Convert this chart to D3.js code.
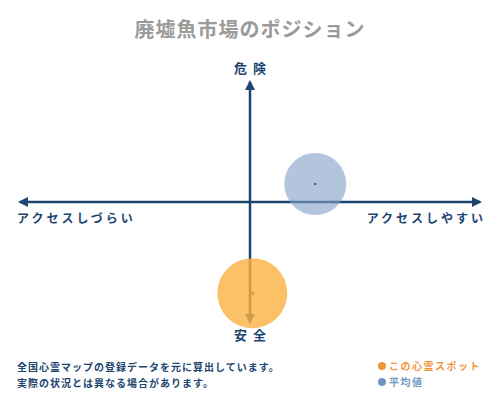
<!DOCTYPE html>
<html lang="ja">
<head>
<meta charset="UTF-8">
<title>廃墟魚市場のポジション</title>
<script src="https://d3js.org/d3.v7.min.js"></script>
<style>
  body { margin: 0; background: #fff; }
  text { font-family: "Noto Sans CJK JP", sans-serif; }
</style>
</head>
<body>
<script>

    const width = 500;
    const height = 400;

    // position on the two axes, -1..1 (access: left hard / right easy, danger: down safe / up danger)
    const names = ['この心霊スポット', '平均値'];
    const access = [0.01, 0.28];
    const danger = [-0.76, 0.15];
    const radius = [35, 31];
    const colors = ['#fbb040', '#7f9fc4'];
    const legendColors = ['#f0953a', '#6f98c1'];

    const axisLabels = ['アクセスしづらい', 'アクセスしやすい', '危険', '安全'];
    const notes = ['全国心霊マップの登録データを元に算出しています。', '実際の状況とは異なる場合があります。'];

    const navy = '#1c4670';

    const x = d3.scaleLinear().domain([-1, 1]).range([17, 483]);
    const y = d3.scaleLinear().domain([-1, 1]).range([322, 82]);

    const svg = d3.select('body').append('svg')
            .attr('width', width).attr('height', height);

    const defs = svg.append('defs');
    defs.append('marker').attr('id', 'arr')
            .attr('viewBox', '0 0 10 10').attr('refX', 8).attr('refY', 5)
            .attr('markerWidth', 4).attr('markerHeight', 4).attr('orient', 'auto-start-reverse')
            .append('path').attr('d', 'M0,0 L10,5 L0,10 z').attr('fill', navy);

    svg.append('text')
            .attr('x', width / 2).attr('y', 37)
            .attr('text-anchor', 'middle')
            .attr('font-size', 20).attr('font-weight', 'bold')
            .attr('fill', '#9a9a9a').attr('letter-spacing', 1)
            .text('廃墟魚市場のポジション');

    // axes
    svg.append('line')
            .attr('x1', x(-1) + 3).attr('x2', x(1) - 3)
            .attr('y1', y(0)).attr('y2', y(0))
            .attr('stroke', navy).attr('stroke-width', 2.5)
            .attr('marker-start', 'url(#arr)').attr('marker-end', 'url(#arr)');

    svg.append('line')
            .attr('x1', x(0)).attr('x2', x(0))
            .attr('y1', y(1)).attr('y2', y(-1))
            .attr('stroke', navy).attr('stroke-width', 2.5)
            .attr('marker-start', 'url(#arr)').attr('marker-end', 'url(#arr)');

    // axis labels
    svg.append('text').attr('x', x(-1)).attr('y', y(0) + 21)
            .attr('font-size', 12).attr('font-weight', 'bold').attr('fill', navy)
            .attr('letter-spacing', 3).text(axisLabels[0]);
    svg.append('text').attr('x', x(1) + 3).attr('y', y(0) + 21)
            .attr('text-anchor', 'end')
            .attr('font-size', 12).attr('font-weight', 'bold').attr('fill', navy)
            .attr('letter-spacing', 3).text(axisLabels[1]);
    svg.append('text').attr('x', x(0) + 3).attr('y', y(1) - 9)
            .attr('text-anchor', 'middle')
            .attr('font-size', 13).attr('font-weight', 'bold').attr('fill', navy)
            .attr('letter-spacing', 6).text(axisLabels[2]);
    svg.append('text').attr('x', x(0) + 3).attr('y', y(-1) + 18)
            .attr('text-anchor', 'middle')
            .attr('font-size', 13).attr('font-weight', 'bold').attr('fill', navy)
            .attr('letter-spacing', 6).text(axisLabels[3]);

    // bubbles, average drawn first
    const idx = [1, 0];
    svg.selectAll('circle.bubble').data(idx).enter().append('circle')
            .attr('class', 'bubble')
            .attr('cx', i => x(access[i])).attr('cy', i => y(danger[i]))
            .attr('r', i => radius[i])
            .attr('fill', i => colors[i]).attr('fill-opacity', i => i === 0 ? 0.8 : 0.6);

    svg.selectAll('circle.dot').data(idx).enter().append('circle')
            .attr('class', 'dot')
            .attr('cx', i => x(access[i])).attr('cy', i => y(danger[i]))
            .attr('r', i => i === 0 ? 2 : 1)
            .attr('fill', i => i === 0 ? '#f0953a' : '#222');

    // notes
    svg.selectAll('text.note').data(notes).enter().append('text')
            .attr('class', 'note')
            .attr('x', 17).attr('y', (d, i) => 371 + i * 16)
            .attr('font-size', 10).attr('font-weight', 'bold').attr('fill', navy)
            .attr('letter-spacing', 1)
            .text(d => d);

    // legend
    const leg = svg.selectAll('g.leg').data(names).enter().append('g')
            .attr('class', 'leg')
            .attr('transform', (d, i) => `translate(382,${366 + i * 16})`);
    leg.append('circle').attr('r', 4).attr('fill', (d, i) => legendColors[i]);
    leg.append('text').attr('x', 7).attr('y', 4)
            .attr('font-size', 10).attr('font-weight', 'bold')
            .attr('letter-spacing', 1.5)
            .attr('fill', (d, i) => legendColors[i])
            .text(d => d);

</script>
</body>
</html>
